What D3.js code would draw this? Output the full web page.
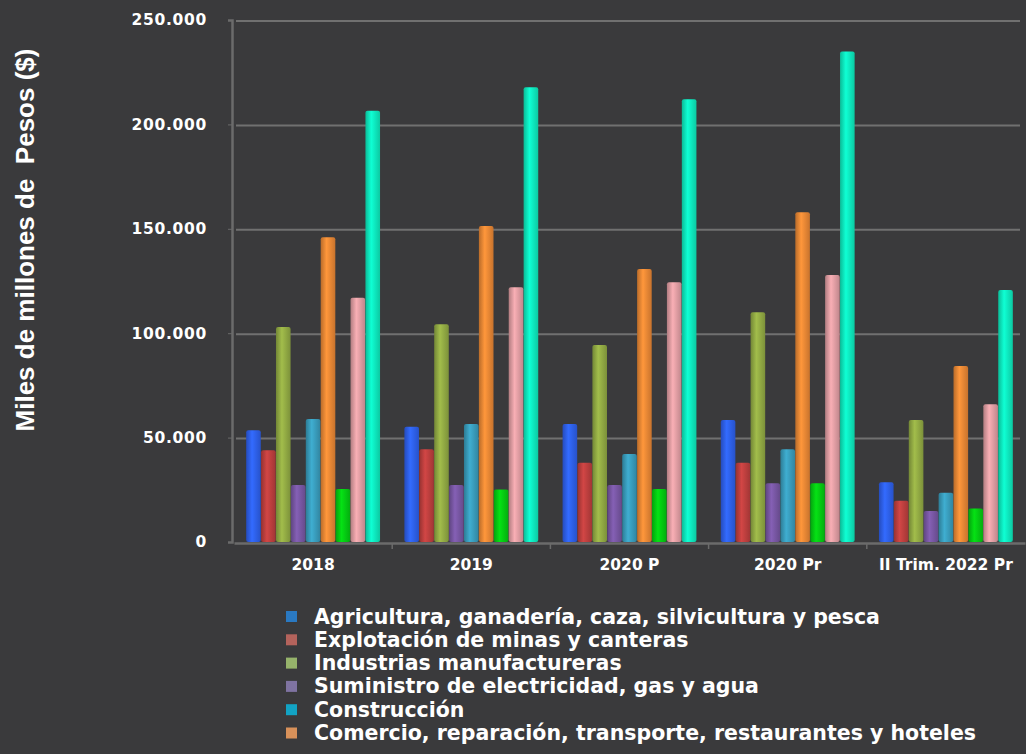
<!DOCTYPE html>
<meta charset="utf-8">
<head>
<script src="https://d3js.org/d3.v7.min.js"></script>
<style>
  body { margin: 0; background: #3a3a3c; overflow: hidden; }
  text { fill: #fff; font-weight: bold; }
</style>
</head>
<body>
<div id="chart"></div>
<script>
// categories on the x axis
var categories = ["2018", "2019", "2020 P", "2020 Pr", "II Trim. 2022 Pr"];

// series names (only the first six fit in the visible legend)
var seriesNames = [
  "Agricultura, ganadería, caza, silvicultura y pesca",
  "Explotación de minas y canteras",
  "Industrias manufactureras",
  "Suministro de electricidad, gas y agua",
  "Construcción",
  "Comercio, reparación, transporte, restaurantes y hoteles",
  "Actividades financieras y de seguros",
  "Actividades inmobiliarias",
  "Administración pública, educación y salud"
];

// values, miles de millones de pesos
var agricultura    = [53500, 55200, 56500, 58400, 28600];
var minas          = [44000, 44400, 38000, 38000, 19800];
var industrias     = [103000, 104300, 94400, 110000, 58400];
var electricidad   = [27300, 27300, 27300, 28100, 14800];
var construccion   = [58900, 56500, 42200, 44400, 23600];
var comercio       = [146000, 151400, 130800, 157900, 84300];
var financieras    = [25400, 25200, 25400, 28100, 16100];
var inmobiliarias  = [117000, 122000, 124400, 127900, 66000];
var administracion = [206500, 217800, 212000, 234900, 120700];

var yTicks = [0, 50000, 100000, 150000, 200000, 250000];

var barColors = ["#2f62f2", "#c0403f", "#94ad45", "#7a58a6", "#3a9fbf",
                 "#ef8a36", "#05cf12", "#e4a0a6", "#0ef0c2"];
var legendColors = ["#2a79c2", "#b4635c", "#96b36b", "#7f73a1", "#12a3c4", "#d8915a"];

var series = [agricultura, minas, industrias, electricidad, construccion,
              comercio, financieras, inmobiliarias, administracion];

var width = 1026, height = 754;

var svg = d3.select("#chart").append("svg")
    .attr("width", width)
    .attr("height", height);

var locale = d3.formatLocale({decimal: ",", thousands: ".", grouping: [3], currency: ["$", ""]});
var fmt = locale.format(",");

var x0 = d3.scaleBand()
    .domain(categories)
    .range([234, 1025])
    .paddingInner(0.15)
    .paddingOuter(0.075);

var x1 = d3.scaleBand()
    .domain(d3.range(series.length))
    .range([0, x0.bandwidth()])
    .padding(0.02);

var y = d3.scaleLinear()
    .domain([0, 250000])
    .range([542, 20]);

// gradients to give the bars a rounded look
var defs = svg.append("defs");
barColors.forEach(function(c, i) {
  var g = defs.append("linearGradient").attr("id", "g" + i)
      .attr("x1", 0).attr("x2", 1).attr("y1", 0).attr("y2", 0);
  g.append("stop").attr("offset", "0%").attr("stop-color", d3.color(c).darker(0.7));
  g.append("stop").attr("offset", "40%").attr("stop-color", d3.color(c).brighter(0.25));
  g.append("stop").attr("offset", "100%").attr("stop-color", d3.color(c).darker(0.5));
});

// grid
svg.append("g")
  .selectAll("line")
  .data(yTicks.slice(1))
  .join("line")
    .attr("x1", 236).attr("x2", 1020)
    .attr("y1", function(d) { return y(d) + 1; })
    .attr("y2", function(d) { return y(d) + 1; })
    .attr("stroke", "#707070")
    .attr("stroke-width", 2);

// y axis
var yAxis = svg.append("g")
    .attr("transform", "translate(232,0)")
    .call(d3.axisLeft(y).tickValues(yTicks).tickFormat(fmt).tickSize(4).tickPadding(21));
yAxis.select(".domain").attr("stroke", "#6b6b6b").attr("stroke-width", 2.5);
yAxis.selectAll(".tick line").attr("stroke", "#6b6b6b");
yAxis.selectAll("text")
    .style("font-family", "DejaVu Sans")
    .style("font-size", "15.5px")
    .style("letter-spacing", "0.7px")
    .attr("fill", "#fff");

// bars
svg.append("g")
  .selectAll("g")
  .data(categories)
  .join("g")
    .attr("transform", function(d) { return "translate(" + x0(d) + ",0)"; })
  .selectAll("rect")
  .data(function(d, ci) { return series.map(function(s, si) { return {si: si, v: s[ci]}; }); })
  .join("rect")
    .attr("x", function(d) { return x1(d.si); })
    .attr("width", x1.bandwidth())
    .attr("y", function(d) { return y(d.v); })
    .attr("height", function(d) { return y(0) - y(d.v); })
    .attr("rx", 2)
    .attr("fill", function(d) { return "url(#g" + d.si + ")"; });

// x axis
var xAxis = svg.append("g")
    .attr("transform", "translate(0,543)")
    .call(d3.axisBottom(x0).tickSize(0).tickPadding(16));
xAxis.select(".domain").attr("stroke", "#6b6b6b").attr("stroke-width", 2.5);
xAxis.selectAll("text")
    .style("font-family", "DejaVu Sans")
    .style("font-size", "15.5px")
    .attr("fill", "#fff");

// boundary ticks between categories
svg.append("g")
  .selectAll("line")
  .data(categories.slice(1))
  .join("line")
    .attr("x1", function(d) { return x0(d) - x0.step() * x0.paddingInner() / 2; })
    .attr("x2", function(d) { return x0(d) - x0.step() * x0.paddingInner() / 2; })
    .attr("y1", 543).attr("y2", 549)
    .attr("stroke", "#6b6b6b").attr("stroke-width", 1.5);

// y axis title
svg.append("text")
    .attr("transform", "translate(34,240) rotate(-90)")
    .attr("text-anchor", "middle")
    .style("font-family", "Liberation Sans")
    .style("font-size", "26px")
    .style("white-space", "pre")
    .text("Miles de millones de  Pesos ($)");

// legend (rows past the bottom edge are cut off in the original)
var legend = svg.append("g")
    .attr("transform", "translate(286,610)");
var rows = legend.selectAll("g")
  .data(seriesNames.slice(0, legendColors.length))
  .join("g")
    .attr("transform", function(d, i) { return "translate(0," + i * 23.3 + ")"; });
rows.append("rect")
    .attr("y", 1)
    .attr("width", 11).attr("height", 11)
    .attr("fill", function(d, i) { return legendColors[i]; });
rows.append("text")
    .attr("x", 28).attr("y", 13.5)
    .style("font-family", "DejaVu Sans")
    .style("font-size", "20.5px")
    .text(function(d) { return d; });
</script>
</body>
